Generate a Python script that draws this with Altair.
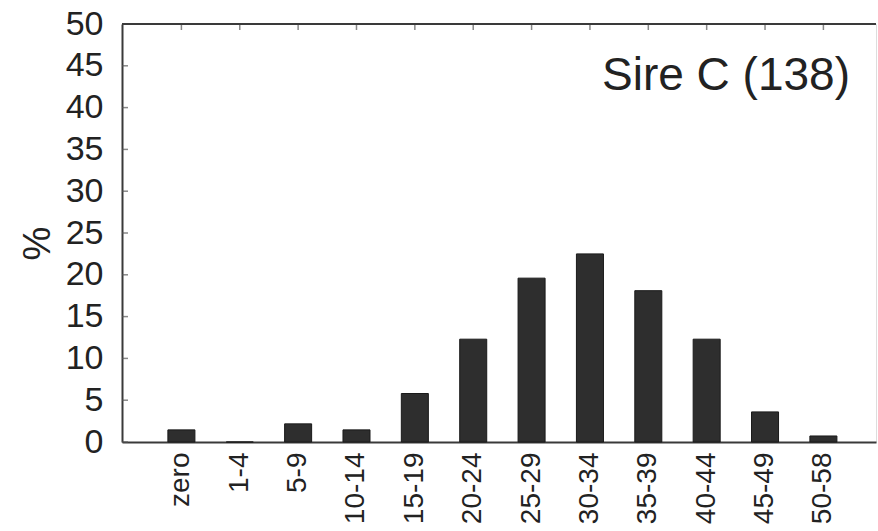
import altair as alt
import pandas as pd

categories = ["zero", "1-4", "5-9", "10-14", "15-19", "20-24", "25-29",
              "30-34", "35-39", "40-44", "45-49", "50-58"]
percent = [1.45, 0.0, 2.17, 1.45, 5.8, 12.3, 19.6, 22.5, 18.1, 12.3, 3.6, 0.72]
y_ticks = [0, 5, 10, 15, 20, 25, 30, 35, 40, 45, 50]
title_text = ["Sire C (138)"]

W, H = 754, 418
FONT = "Liberation Sans"
INK = "#222222"
FRAME = "#3a3a3a"

df = pd.DataFrame({"cat": categories, "pct": percent})
tick_df = pd.DataFrame({"pct": y_ticks})
title_df = pd.DataFrame({"label": title_text})

xscale = alt.Scale(domain=categories, paddingInner=0.537, paddingOuter=0.728, align=0.54)
yscale = alt.Scale(domain=[0, 50], nice=False, zero=True)

bars = alt.Chart(df).mark_bar(color="#2e2e2e", stroke="#1a1a1a", strokeWidth=1).encode(
    x=alt.X("cat:N", scale=xscale, sort=categories,
            axis=alt.Axis(title=None, labelAngle=270, labelAlign="right",
                          labelBaseline="middle", labelFontSize=28, labelFont=FONT,
                          labelColor=INK, labelPadding=10, tickSize=0,
                          domainColor=FRAME, domainWidth=2)),
    y=alt.Y("pct:Q", scale=yscale,
            axis=alt.Axis(values=y_ticks, title="%", titleFont=FONT, titleFontSize=38,
                          titleFontWeight="normal", titleColor=INK, titleAngle=270,
                          titleAlign="center", titleBaseline="middle",
                          titleX=-84, titleY=219,
                          labelFontSize=34, labelFont=FONT, labelColor=INK,
                          labelPadding=19, tickSize=0, grid=False,
                          domainColor=FRAME, domainWidth=2)),
)

top_ticks = alt.Chart(df).mark_tick(orient="vertical", size=6, thickness=1.5, color="#555555").encode(
    x=alt.X("cat:N", scale=xscale, sort=categories),
    y=alt.value(3),
)

left_ticks = alt.Chart(tick_df).mark_tick(orient="horizontal", size=6, thickness=1.5, color="#555555").encode(
    y=alt.Y("pct:Q", scale=yscale),
    x=alt.value(3),
)

top_line = alt.Chart(df).mark_rule(color=FRAME, strokeWidth=2).encode(
    x=alt.value(0), x2=alt.value(W), y=alt.value(0)
)

title_mark = alt.Chart(title_df).mark_text(
    align="right", baseline="alphabetic", font=FONT, fontSize=46, color=INK
).encode(text="label:N", x=alt.value(W - 26), y=alt.value(66))

chart = alt.layer(bars, top_ticks, left_ticks, top_line, title_mark).properties(
    width=W, height=H,
    autosize=alt.AutoSizeParams(type="none"),
    padding={"left": 122, "top": 24, "right": 2, "bottom": 89},
).configure_view(stroke=None).configure(background="white")

chart.save("out.html", embed_options={"renderer": "svg", "actions": False})
